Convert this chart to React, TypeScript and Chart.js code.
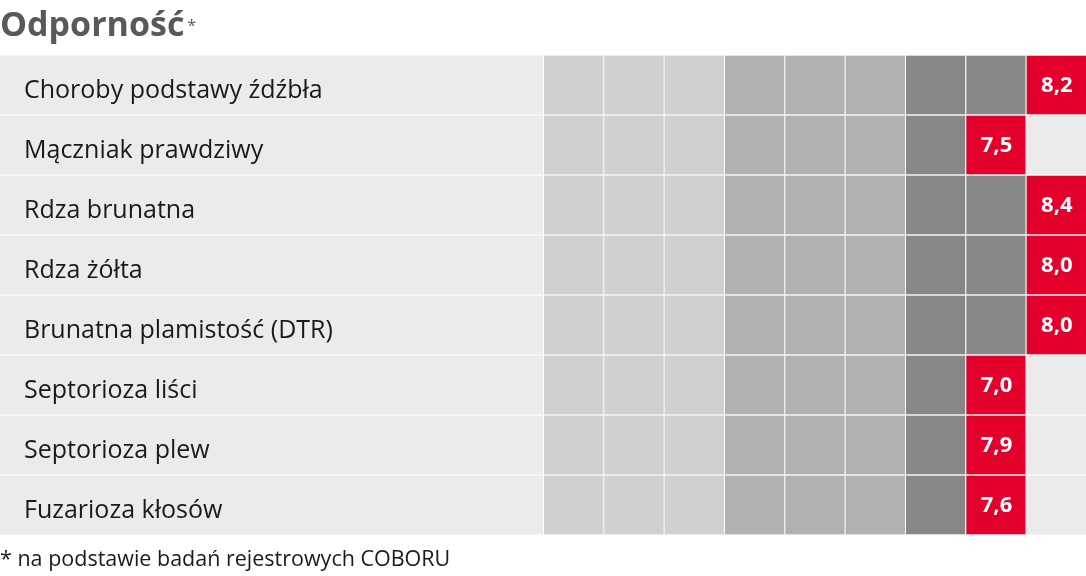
import React, { useEffect, useRef } from "react";
import { Chart, registerables } from "chart.js";

Chart.register(...registerables);

const categories = [
  "Choroby podstawy źdźbła",
  "Mączniak prawdziwy",
  "Rdza brunatna",
  "Rdza żółta",
  "Brunatna plamistość (DTR)",
  "Septorioza liści",
  "Septorioza plew",
  "Fuzarioza kłosów",
];
const values = [8.2, 7.5, 8.4, 8.0, 8.0, 7.0, 7.9, 7.6];
const columnColors = [
  "#d0d0d0", "#d0d0d0", "#d0d0d0",
  "#b1b1b1", "#b1b1b1", "#b1b1b1",
  "#878787", "#878787",
];
const markColor = "#e3002b";
const rowColor = "#ebebeb";
const titleText = "Odporność";
const titleMark = "*";
const footnoteText = "* na podstawie badań rejestrowych COBORU";
const scaleMin = -9;
const scaleMax = 9;

const FONT = "'Open Sans', 'Noto Sans', sans-serif";

export default function App() {
  const ref = useRef<HTMLCanvasElement>(null);

  useEffect(() => {
    const canvas = ref.current!;
    const cellBorder = { top: 0, right: 0, bottom: 0, left: 1 };
    const datasets: any[] = [
      {
        label: "row",
        order: 10,
        data: categories.map(() => [scaleMin, scaleMax]),
        backgroundColor: rowColor,
        borderWidth: 0,
      },
      ...columnColors.map((c, k) => ({
        label: `col${k + 1}`,
        order: 5,
        data: values.map((v) => (k + 1 <= Math.floor(v) ? [k, k + 1] : null)),
        backgroundColor: c,
        borderColor: "#ffffff",
        borderWidth: cellBorder,
        borderSkipped: false,
      })),
      {
        label: "ocena",
        order: 1,
        data: values.map((v) => [Math.floor(v), Math.floor(v) + 1]),
        backgroundColor: markColor,
        borderColor: "#ffffff",
        borderWidth: cellBorder,
        borderSkipped: false,
      },
    ];
    const markIndex = datasets.length - 1;

    const valueLabels = {
      id: "valueLabels",
      afterDatasetsDraw(chart: any) {
        const ctx = chart.ctx;
        const meta = chart.getDatasetMeta(markIndex);
        ctx.save();
        ctx.fillStyle = "#ffffff";
        ctx.font = `bold 22px ${FONT}`;
        ctx.textAlign = "center";
        ctx.textBaseline = "alphabetic";
        meta.data.forEach((el: any, i: number) => {
          const p = el.getCenterPoint();
          ctx.fillText(values[i].toFixed(1).replace(".", ","), p.x + 1, p.y + 6.5);
        });
        ctx.restore();
      },
    };

    const headerFooter = {
      id: "headerFooter",
      afterDraw(chart: any) {
        const ctx = chart.ctx;
        ctx.save();
        ctx.textBaseline = "alphabetic";
        ctx.textAlign = "left";
        ctx.fillStyle = "#595959";
        ctx.font = `bold 34px ${FONT}`;
        ctx.fillText(titleText, 0, 36);
        const w = ctx.measureText(titleText).width;
        ctx.font = `16px ${FONT}`;
        ctx.fillText(titleMark, w + 3, 31);
        ctx.fillStyle = "#1a1a1a";
        ctx.font = `21.5px ${FONT}`;
        ctx.fillText(footnoteText, 0, 566);
        ctx.restore();
      },
    };

    const chart = new Chart(canvas, {
      type: "bar",
      data: { labels: categories, datasets },
      plugins: [valueLabels, headerFooter],
      options: {
        indexAxis: "y",
        animation: false,
        responsive: false,
        devicePixelRatio: 1,
        layout: { padding: { top: 55, bottom: 41, left: 0, right: 0 } },
        datasets: {
          bar: { grouped: false, categoryPercentage: 1, barPercentage: 0.98 },
        },
        plugins: {
          legend: { display: false },
          tooltip: { enabled: false },
          title: { display: false },
        },
        scales: {
          x: { type: "linear", min: scaleMin, max: scaleMax, display: false },
          y: {
            type: "category",
            grid: { display: false, drawTicks: false },
            border: { display: false },
            afterFit: (s: any) => {
              s.width = 0;
            },
            ticks: {
              z: 1,
              mirror: true,
              padding: 24,
              labelOffset: 5.5,
              autoSkip: false,
              color: "#1a1a1a",
              font: { family: FONT, size: 25 },
            },
          },
        },
      } as any,
    });
    return () => chart.destroy();
  }, []);

  return (
    <div style={{ position: "absolute", left: 0, top: 0, width: 1086, height: 576, background: "#ffffff" }}>
      <canvas ref={ref} width={1086} height={576} style={{ display: "block" }} />
    </div>
  );
}
